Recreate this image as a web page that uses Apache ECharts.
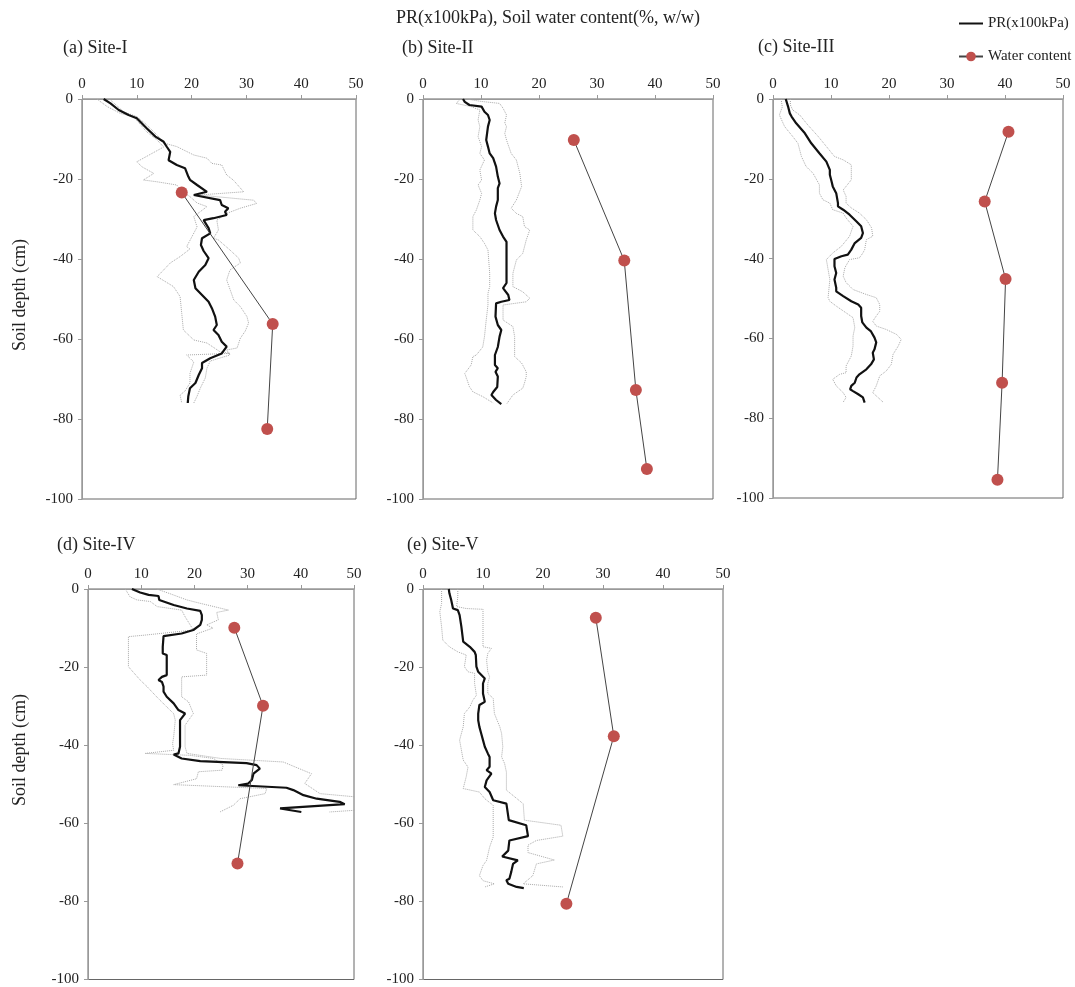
<!DOCTYPE html>
<html>
<head>
<meta charset="utf-8">
<script src="https://cdn.jsdelivr.net/npm/echarts@6/dist/echarts.min.js"></script>
<style>
html,body{margin:0;padding:0;background:#fff;}
#chart{width:1075px;height:987px;}
</style>
</head>
<body>
<div id="chart"></div>
<script>
// ---------- DATA: [value, depth(cm, positive downward)] ----------
const xTicks = [0, 10, 20, 30, 40, 50];
const yTicks = [0, -20, -40, -60, -80, -100];
const panelTitles = ['(a) Site-I', '(b) Site-II', '(c) Site-III', '(d) Site-IV', '(e) Site-V'];

// Site I
const siteI_PR = [[3.95,0],[5.2,1.1],[6.7,2.75],[8.5,4],[10,4.8],[11.8,7.3],[13.4,9.4],[14.9,10.7],[15.5,12],[16.1,13.2],[15.8,15.3],[17.3,16.5],[18.8,17.3],[19.4,19.4],[19.7,20.2],[21,21.5],[22.8,23.2],[20.4,24],[25.2,25.3],[25.5,26.5],[26.7,27.3],[26.1,28.2],[26.4,29],[24,29.8],[22.2,30.3],[23.1,32.3],[23.4,33.6],[21.9,34.8],[21.7,36.5],[22.2,38],[23.1,39.8],[22.5,41.5],[21.3,43.2],[20.4,45.25],[20.7,47.3],[21.9,49],[23.1,50.7],[23.7,52.3],[24.3,54.4],[24.6,56.5],[24,57.75],[24.9,59],[25.5,60.7],[26.4,61.9],[25.5,63.6],[23.4,64.8],[21.9,66],[21.9,67.3],[21.3,69],[20.7,71],[19.7,72.3],[19.4,74.3],[19.3,76]];
const siteI_hi = [[5,0],[7.6,3.2],[10,4.4],[11.5,6.1],[13.1,8.2],[15.2,11.1],[17.3,11.9],[20.4,14],[22.8,14.8],[23.7,16.1],[25.5,16.5],[26.4,19],[27.6,20.25],[29.5,23.2],[21.3,24],[31.3,25.3],[31.9,26.1],[28.9,27.3],[26.4,28.6],[24.6,30.3],[24.9,32.75],[24,34.8],[24.9,35.25],[27,37.75],[28.6,39.8],[28.9,41],[27,42.75],[26.4,45.25],[27.7,50.25],[28.9,51.9],[30.1,54.4],[30.4,56],[29.8,58],[28.9,59.8],[28.3,62.25],[26.4,62.75],[27,64],[23.4,65.5],[22.8,67.3],[22.5,69.75],[21.6,72.25],[21,74.3],[20.4,76]];
const siteI_lo = [[2.7,0],[4.6,1.9],[7,3.6],[9.4,4.4],[11.8,8.2],[13.7,10.25],[14.9,12],[10,15.7],[11,17],[13.1,18.6],[11.2,20.25],[13.7,20.7],[17.3,21.5],[17.9,22.75],[19.7,24.4],[21,26],[22.8,26.9],[20.4,29.4],[21,32],[19.1,36.9],[19.7,37.5],[17.9,39.4],[16.1,41],[14.3,43.6],[13.7,44.4],[16.7,46.9],[17.9,49.4],[18.2,53.6],[18.5,57.75],[20.4,60.25],[22.8,61],[25.2,63.2],[27,63.6],[19.1,64],[20.4,65.75],[19.7,68.6],[19.7,71],[18.8,73],[17.9,74],[18.2,76]];
const siteI_WC = [[18.2,23.4],[34.8,56.25],[33.8,82.5]];

// Site II
const siteII_PR = [[6.9,0],[7.2,0.7],[8,1.5],[10.1,1.9],[10.6,3.2],[11.2,4],[11.5,5.25],[11.2,6.9],[10.9,10.25],[11.2,11.9],[11.5,13.6],[12.1,14.8],[12.6,16.9],[12.9,19.4],[13.2,21.1],[12.9,22.3],[12.9,25.25],[12.6,26.9],[12.4,28.6],[12.6,30.25],[13.2,32.75],[13.8,34.4],[14.4,35.7],[14.4,38.6],[14.4,46],[13.8,47.3],[14.7,49],[14.9,50.25],[13.5,50.7],[12.6,51.1],[12.5,54.4],[12.9,56.5],[13.5,57.75],[13.2,59.4],[12.9,62],[12.4,64],[12.4,66.5],[12.9,67.3],[12.5,68.2],[12.9,69.4],[12.8,72],[12.1,73.25],[11.8,74],[12.6,75.25],[13.5,76.3]];
const siteII_hi = [[7.5,0],[10,0.6],[13.2,1.1],[13.8,2.3],[14.4,4],[14.1,6],[14.4,6.9],[14.1,8.6],[14.4,10.25],[15.2,13.6],[16.1,15.25],[16.7,18.6],[17,21.9],[16.1,25.25],[15.2,27.3],[16.1,28.6],[17.2,29.4],[17.5,31.9],[18.4,32.75],[17.8,35.25],[17.2,38.6],[16.1,40.25],[15.5,43.6],[15.5,46.9],[17.2,48.2],[18.4,49.8],[17.8,50.7],[13.8,51.5],[13.8,55.25],[15.5,56.9],[15.8,59.4],[15.8,64.4],[17,66],[17.8,68.2],[17.8,69.4],[17.5,71],[17.2,72.3],[15.5,74],[14.4,76.3]];
const siteII_lo = [[6.5,0],[5.7,1.1],[8.3,1.9],[9.8,2.75],[9.5,5.25],[9.8,6.9],[9.5,9.4],[10.1,11.9],[9.8,13.6],[10.6,15.25],[9.8,17.75],[10.1,20.25],[9.5,21.5],[10.1,23.6],[9.8,25.25],[9.2,27.75],[8.6,29.4],[8.6,32.75],[9.8,34.4],[10.6,36.1],[11.2,37.75],[11.5,43.6],[11.5,46.9],[11.2,48.6],[11.2,51.5],[10.9,55.25],[10.6,59.4],[10.3,62],[9.2,64],[8.6,64.4],[8.3,66.5],[7.2,68.6],[7.5,69.8],[8,71.9],[8.6,73.2],[10.3,74.4],[12.1,76]];
const siteII_WC = [[26,10.25],[34.7,40.4],[36.7,72.75],[38.6,92.5]];

// Site III
const siteIII_PR = [[2.2,0],[2.6,1.9],[2.9,3.6],[3.2,4.4],[4,6.1],[5.5,8.6],[6.6,11.1],[8,13.6],[9.2,15.7],[9.8,17.75],[9.8,19],[10.1,20.7],[10.3,21.9],[10.9,23.6],[11.2,26.1],[11.2,26.9],[12.1,27.75],[13.2,29],[14.4,30.7],[15.2,31.9],[15.5,33.6],[15.2,34.8],[14.1,36.1],[13.5,37.75],[12.9,39],[11.8,39.4],[10.6,40.1],[10.6,41.9],[10.9,43.6],[10.6,45.25],[10.9,47.3],[10.9,48.2],[12.1,49.4],[13.5,50.7],[14.7,51.5],[15.2,52.3],[15.2,54.4],[15.4,56],[16.1,57.3],[16.9,58.25],[17.5,59.8],[17.8,61],[17.5,62.75],[17.2,63.6],[17.4,65.25],[16.9,66.5],[16.1,67.75],[14.9,69],[14.4,69.8],[14.1,71.1],[13.5,71.9],[13.3,72.75],[13.8,73.2],[14.7,74],[15.5,74.8],[15.8,76.1]];
const siteIII_hi = [[3,0],[3,1.5],[3.4,2.75],[4.6,4],[6,6.5],[7.8,9.4],[9.2,11.9],[10.6,14.4],[12.1,15.25],[13.5,16.5],[13.5,20.25],[12.6,21.9],[12.1,22.8],[12.6,24.4],[12.6,26.1],[13.5,27.3],[14.9,28.6],[16.1,30.25],[17,32.3],[17.2,34.4],[16.1,35.25],[15.8,37.75],[15.5,38.6],[14.9,39.8],[13.2,40.25],[12.4,42.25],[12.1,44.4],[12.6,46],[13.8,47.75],[16.1,49],[17.8,49.8],[18.4,51.5],[18.4,53.2],[17.8,54.4],[17.2,55.7],[17.8,56.9],[19.5,57.75],[21.3,59],[22.1,60.25],[21.6,61.9],[20.7,64],[20.4,66.5],[19.5,68.2],[18.4,69.4],[17.8,71.9],[17.2,73.6],[19,76]];
const siteIII_lo = [[1.4,0],[1.6,2],[1.1,4],[2,6.9],[3.4,9.4],[4.3,11.1],[4.9,14.4],[5.7,16.9],[6.9,18.6],[8,21.5],[8,23.6],[8.6,25.25],[9.8,26.1],[10.3,27.75],[12.1,28.6],[12.6,29.8],[13.8,31.9],[13.2,34.4],[11.8,36.9],[10.3,38.6],[9.2,40.25],[9.5,42.75],[9.8,45.25],[9.5,49.8],[9.8,50.7],[10.9,51.9],[12.6,53.6],[13.8,54.8],[14.1,57.3],[13.8,59.4],[13.8,61.9],[13.5,64.4],[12.6,66.9],[12.6,68.6],[11.5,69],[10.3,70.25],[10.9,71.9],[12.1,73.6],[12.6,74.8],[12.1,76]];
const siteIII_WC = [[40.6,8.2],[36.5,25.7],[40.1,45.1],[39.5,71.1],[38.7,95.4]];

// Site IV
const siteIV_PR = [[8.25,0],[9.8,0.9],[11.4,1.5],[13.25,1.8],[13.4,2.8],[16.1,4.1],[18.6,5],[21.1,5.6],[21.4,6.7],[21.4,7.9],[21.1,9.2],[19.8,10.5],[17.6,11.4],[14.2,12.05],[14.05,14.8],[14.05,16.5],[14.8,16.9],[14.8,19.9],[14.8,22.05],[13.9,22.5],[13.25,23.3],[13.9,23.8],[14.2,25],[14.2,26.3],[14.8,27.6],[16.1,29.3],[17,31],[18.25,31.9],[17.3,33.6],[17,34],[17.3,35.7],[17.3,38.3],[17.3,40.4],[17,42.1],[16.1,42.4],[17.6,43.4],[21.1,44.1],[29.8,44.6],[31.7,45.1],[32.3,46],[31.1,47.3],[30.8,48.9],[30.1,49.8],[28.25,50.25],[37.3,50.9],[38.6,51.5],[40.5,52.8],[43,53.7],[47.3,54.5],[48.25,55.1],[36.1,56.2],[40.1,57.1]];
const siteIV_hi = [[12.9,0],[15,1],[18.6,2.8],[20.6,3.5],[26.4,5.4],[24.2,6],[24.5,7.9],[22.3,9.2],[23.5,10],[20.4,11.5],[20.4,15.6],[22.3,16.5],[22.3,22.05],[17.6,22.5],[17.6,27.6],[18.9,28.9],[19.8,31.9],[18.9,33.6],[18.25,34.9],[18.25,40.4],[18.6,42.1],[25,43.4],[36.7,44.3],[42,47.3],[40.75,49.8],[43.6,52.4],[50,53.2],[52,54],[52,56.5],[45.4,57.1]];
const siteIV_lo = [[7,0],[7.9,2],[9.2,2.8],[11.7,3.2],[13,4.5],[17.6,5.4],[18.25,7.1],[19.8,10.5],[10.75,11.8],[7.6,12.2],[7.6,19.9],[9.8,23.3],[11.1,25],[12.9,27.6],[14.8,30.2],[16.1,31.9],[16.4,33.6],[16.1,37.9],[15.9,39.6],[16.1,41.3],[10.75,42.1],[19.2,42.6],[23.6,43.4],[25.4,45.1],[25.2,46.4],[20.75,46.8],[20.4,48.6],[16.1,50.1],[33.6,51.1],[33.3,52.4],[28.6,53.7],[27.3,55.4],[24.8,57.1]];
const siteIV_WC = [[27.5,9.9],[32.9,29.9],[28.1,70.3]];

// Site V
const siteV_PR = [[4.3,0],[4.4,1.1],[4.7,2.8],[5,5],[5.8,5.4],[6.1,6.7],[6.4,9.7],[6.7,13.5],[7.8,14.8],[8.6,16.1],[8.8,16.9],[8.9,19.9],[9.2,21.2],[10.3,22.9],[10,24.2],[10,26.75],[10.3,28.9],[9.4,29.7],[9.2,31.9],[9.2,33.6],[8.9,34],[9.4,35.3],[9.7,37],[10,38.7],[10.3,40.4],[10.8,42.1],[11.1,43],[11.1,45.5],[10.6,46.4],[11.4,47.3],[10.6,49],[10.3,50.7],[11.1,52],[11.7,54.1],[13.9,54.95],[14.3,59.2],[17.2,60.5],[17.5,63.3],[14.4,64.4],[14.2,67],[13.2,68.5],[15.8,69.5],[15,70.4],[14.7,72.5],[14.4,74.2],[13.9,74.6],[14.2,75.5],[15.6,76.3],[16.8,76.6]];
const siteV_hi = [[5.8,0],[5.8,2],[5.6,4.5],[7.2,5],[10,5.2],[10,14.8],[11.4,15.2],[10.8,16.5],[10.6,18.2],[10.8,21.2],[11.1,22.5],[10.8,24.2],[10.8,26.75],[11.7,28],[11.9,31.9],[12.8,35.3],[13.1,37],[13.3,40.4],[13.1,43],[13.6,44.7],[13.9,46.9],[13.9,51.5],[16.7,55],[16.9,59.2],[23,60.5],[23.3,63.3],[18.9,64.4],[17.5,65.6],[17.5,67.5],[21.9,69.4],[18.9,70.4],[18.3,73.4],[16.7,75.5],[23.3,76.3]];
const siteV_lo = [[3.1,0],[3.1,3.7],[2.8,5.8],[3.1,9.7],[3.3,13.1],[4.4,14.8],[5.8,16.1],[7.2,16.9],[6.9,19.9],[7.5,21.2],[8.6,21.6],[8.6,24.2],[8.9,27.2],[8.3,28.5],[7.8,30.2],[6.9,31.9],[6.7,35.3],[6.1,38.7],[6.7,43.8],[7.5,45.6],[7.2,48.1],[6.7,51.1],[9.4,52],[10.3,53.7],[11.7,55.4],[11.7,63.5],[11.1,66.1],[10.6,69.5],[10,70.8],[9.4,73.4],[10,74.7],[11.9,75.5],[10.3,76.3]];
const siteV_WC = [[28.8,7.35],[31.8,37.7],[23.9,80.6]];

// ---------- LAYOUT / STYLE ----------
const FONT = '"Liberation Serif", "Times New Roman", serif';
const panels = [
  {grid:{left:82, top:99, width:274, height:400}, title:[63,48], PR:siteI_PR, hi:siteI_hi, lo:siteI_lo, WC:siteI_WC},
  {grid:{left:423, top:99, width:290, height:400}, title:[402,48], PR:siteII_PR, hi:siteII_hi, lo:siteII_lo, WC:siteII_WC},
  {grid:{left:773, top:99, width:290, height:399}, title:[758,47], PR:siteIII_PR, hi:siteIII_hi, lo:siteIII_lo, WC:siteIII_WC},
  {grid:{left:88, top:589, width:266, height:391}, title:[57,545], PR:siteIV_PR, hi:siteIV_hi, lo:siteIV_lo, WC:siteIV_WC},
  {grid:{left:423, top:589, width:300, height:392}, title:[407,545], PR:siteV_PR, hi:siteV_hi, lo:siteV_lo, WC:siteV_WC}
];
const toXY = arr => arr.map(p => [p[0], -p[1]]);

const grids = [], xAxes = [], yAxes = [], series = [];
panels.forEach((p, i) => {
  grids.push(Object.assign({show:true, borderColor:'#666', borderWidth:1, backgroundColor:'transparent'}, p.grid));
  xAxes.push({
    type:'value', gridIndex:i, position:'top', min:xTicks[0], max:xTicks[xTicks.length-1], interval:10,
    axisLine:{show:true, onZero:false, lineStyle:{color:'#999', width:1}},
    axisTick:{show:true, inside:false, length:4, lineStyle:{color:'#999'}},
    axisLabel:{color:'#222', fontFamily:FONT, fontSize:15, margin:7},
    splitLine:{show:false}
  });
  yAxes.push({
    type:'value', gridIndex:i, min:yTicks[yTicks.length-1], max:yTicks[0], interval:20,
    axisLine:{show:true, onZero:false, lineStyle:{color:'#999', width:1}},
    axisTick:{show:true, inside:false, length:4, lineStyle:{color:'#999'}},
    axisLabel:{color:'#222', fontFamily:FONT, fontSize:15, margin:9},
    splitLine:{show:false}
  });
  const dotted = {color:'#a8a8a8', width:1, type:'dotted'};
  series.push({type:'line', name:'lo'+i, xAxisIndex:i, yAxisIndex:i, data:toXY(p.lo), symbol:'none', lineStyle:dotted, silent:true, z:2});
  series.push({type:'line', name:'hi'+i, xAxisIndex:i, yAxisIndex:i, data:toXY(p.hi), symbol:'none', lineStyle:dotted, silent:true, z:2});
  series.push({type:'line', name:'PR(x100kPa)', xAxisIndex:i, yAxisIndex:i, data:toXY(p.PR), symbol:'none',
    lineStyle:{color:'#111', width:2.2}, itemStyle:{color:'#111'}, z:3});
  series.push({type:'line', name:'Water content', xAxisIndex:i, yAxisIndex:i, data:toXY(p.WC), symbol:'circle', symbolSize:12,
    showSymbol:true, lineStyle:{color:'#444', width:1}, itemStyle:{color:'#c0504d'}, z:4});
});

const graphics = [
  {type:'text', x:548, y:18, style:{text:'PR(x100kPa), Soil water content(%, w/w)', font:'18px ' + FONT, fill:'#222', textAlign:'center', textVerticalAlign:'middle'}},
  {type:'text', x:20, y:295, rotation:Math.PI/2, style:{text:'Soil depth (cm)', font:'18px ' + FONT, fill:'#222', textAlign:'center', textVerticalAlign:'middle'}},
  {type:'text', x:20, y:750, rotation:Math.PI/2, style:{text:'Soil depth (cm)', font:'18px ' + FONT, fill:'#222', textAlign:'center', textVerticalAlign:'middle'}}
];
panels.forEach((p, i) => {
  graphics.push({type:'text', x:p.title[0], y:p.title[1], style:{text:panelTitles[i], font:'18px ' + FONT, fill:'#222', textAlign:'left', textVerticalAlign:'middle'}});
});

const chart = echarts.init(document.getElementById('chart'));
chart.setOption({
  animation:false,
  backgroundColor:'#fff',
  grid:grids, xAxis:xAxes, yAxis:yAxes, series:series,
  graphic:graphics,
  legend:{
    data:[{name:'PR(x100kPa)', itemStyle:{opacity:0, color:'transparent', borderWidth:0}}, 'Water content'],
    orient:'vertical', left:953, top:11,
    itemWidth:24, itemHeight:12, itemGap:18,
    textStyle:{color:'#222', fontFamily:FONT, fontSize:15}
  },
  tooltip:{show:false}
});
</script>
</body>
</html>
